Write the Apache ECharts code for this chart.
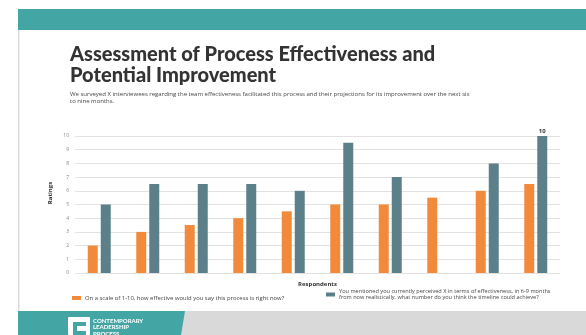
<!DOCTYPE html>
<html>
<head>
<meta charset="utf-8">
<script src="https://cdn.jsdelivr.net/npm/echarts@6/dist/echarts.min.js"></script>
<style>
html,body{margin:0;padding:0;background:#fff;}
#chart{width:586px;height:335px;}
</style>
</head>
<body>
<div id="chart"></div>
<script>
const categories = ['1','2','3','4','5','6','7','8','9','10'];
const currentRatings = [2, 3, 3.5, 4, 4.5, 5, 5, 5.5, 6, 6.5];
const projectedRatings = [5, 6.5, 6.5, 6.5, 6, 9.5, 7, null, 8, 10];
const yTicks = [0,1,2,3,4,5,6,7,8,9,10];
const labelIndex = 9;

const seriesName1 = 'On a scale of 1-10, how effective would you say this process is right now?';
const seriesName2 = 'You mentioned you currently perceived X in terms of effectiveness, in 6-9 months\nfrom now realistically, what number do you think the timeline could achieve?';

const titleText = 'Assessment of Process Effectiveness and\nPotential Improvement';
const subtitleText = 'We surveyed X interviewees regarding the team effectiveness facilitated this process and their projections for its improvement over the next six\nto nine months.';

const ORANGE = '#f28a3b';
const SLATE = '#5c8089';
const TEAL = '#44a5a5';

const chart = echarts.init(document.getElementById('chart'), null, {renderer:'canvas'});
chart.setOption({
  backgroundColor: '#fff',
  animation: false,
  grid: {left: 75, right: 26, top: 136, bottom: 62, containLabel: false},
  legend: [
    {
      data: [seriesName1], left: 72, top: 295, icon: 'rect', itemWidth: 9, itemHeight: 4,
      padding: 0, textStyle: {fontSize: 5.9, color: '#444', fontFamily: 'Open Sans', padding: [0,0,0,-1]}
    },
    {
      data: [seriesName2], left: 326, top: 288, icon: 'rect', itemWidth: 9, itemHeight: 4,
      padding: 0, textStyle: {fontSize: 5.6, lineHeight: 6.5, color: '#444', fontFamily: 'Open Sans', padding: [0,0,0,-1]}
    }
  ],
  xAxis: {
    type: 'category', data: categories,
    axisLine: {show: false}, axisTick: {show: false}, axisLabel: {show: false},
    name: 'Respondents', nameLocation: 'middle', nameGap: 8,
    nameTextStyle: {fontSize: 6, fontWeight: 'bold', color: '#333', fontFamily: 'Open Sans'}
  },
  yAxis: {
    type: 'value', min: 0, max: 10, interval: 1,
    axisLine: {show: false}, axisTick: {show: false},
    axisLabel: {fontSize: 5, color: '#888', margin: 6, fontFamily: 'Open Sans',
      formatter: v => yTicks.includes(v) ? String(v) : ''},
    splitLine: {lineStyle: {color: '#e2e2e2', width: 1}}
  },
  series: [
    {
      name: seriesName1, type: 'bar', data: currentRatings,
      barWidth: 10, barGap: '30%', itemStyle: {color: ORANGE}
    },
    {
      name: seriesName2, type: 'bar', data: projectedRatings.map((v, i) => i === labelIndex ? {
        value: v, label: {show: true, position: 'top', distance: 2, fontSize: 6, fontWeight: 'bold', color: '#333', fontFamily: 'Open Sans'}
      } : v),
      barWidth: 10, itemStyle: {color: SLATE}
    }
  ],
  graphic: [
    {type: 'rect', shape: {x: 18, y: 9, width: 568, height: 21}, style: {fill: TEAL}, silent: true},
    {type: 'rect', shape: {x: 18, y: 30, width: 1.5, height: 281}, style: {fill: '#dcdcdc'}, silent: true},
    {type: 'rect', shape: {x: 18, y: 311, width: 568, height: 24}, style: {fill: '#d9d9d9'}, silent: true},
    {type: 'polygon', shape: {points: [[18,311],[185,311],[181,335],[18,335]]}, style: {fill: TEAL}, silent: true},
    {type: 'rect', shape: {x: 68, y: 317, width: 22, height: 18, r: 1}, style: {fill: '#fff'}, silent: true},
    {type: 'rect', shape: {x: 73, y: 322, width: 13, height: 13}, style: {fill: TEAL}, silent: true},
    {type: 'rect', shape: {x: 77, y: 326, width: 9, height: 5}, style: {fill: '#fff'}, silent: true},
    {type: 'text', left: 93, top: 318, style: {text: 'CONTEMPORARY\nLEADERSHIP\nPROCESS', fill: '#fff', fontSize: 6, lineHeight: 6.3, fontWeight: 'bold', fontFamily: 'Lato'}, silent: true},
    {type: 'text', left: 70, top: 44, style: {text: titleText, fill: '#333', fontSize: 20, lineHeight: 21, fontWeight: 900, fontFamily: 'Lato'}, silent: true},
    {type: 'text', left: 70, top: 91, style: {text: subtitleText, fill: '#444', fontSize: 6, lineHeight: 7, fontFamily: 'Open Sans'}, silent: true},
    {type: 'text', x: 50, y: 193, rotation: Math.PI/2, style: {text: 'Ratings', fill: '#333', fontSize: 6, fontWeight: 'bold', fontFamily: 'Open Sans', align: 'center', verticalAlign: 'middle'}, silent: true}
  ]
});
</script>
</body>
</html>
